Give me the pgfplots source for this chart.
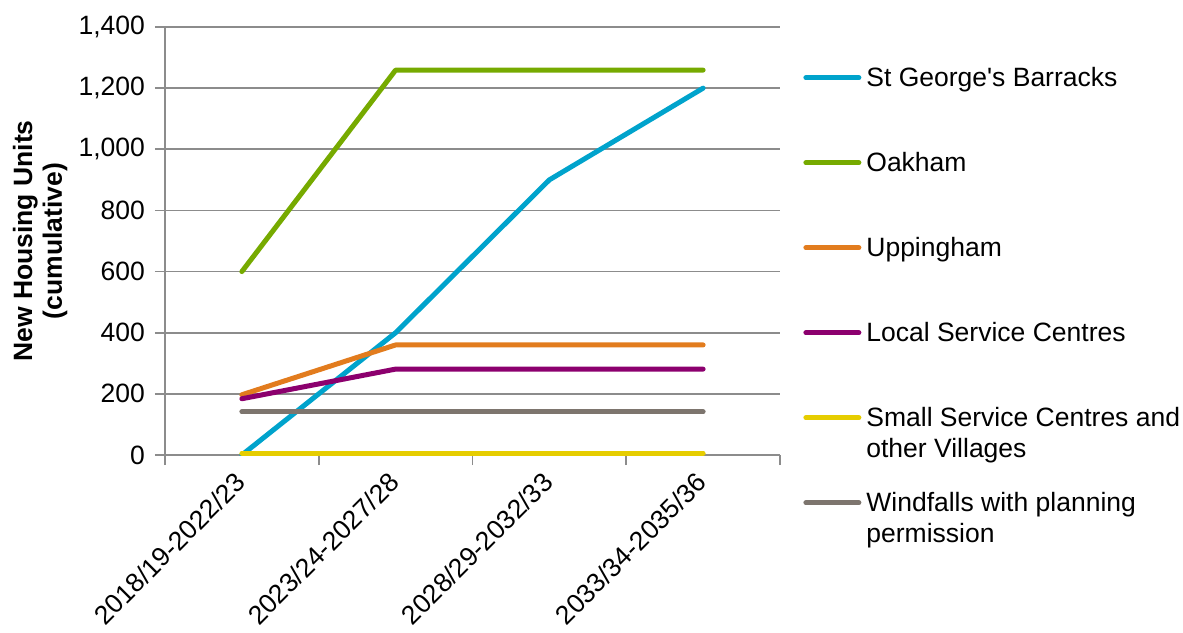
\documentclass[border=0pt]{standalone}
\usepackage{pgfplots}
\pgfplotsset{compat=1.18}
\usepackage{fontspec}
\setmainfont{Liberation Sans}

\definecolor{cStG}{RGB}{0,163,204}
\definecolor{cOak}{RGB}{118,170,0}
\definecolor{cUpp}{RGB}{226,124,30}
\definecolor{cLsc}{RGB}{140,0,110}
\definecolor{cSsc}{RGB}{230,205,0}
\definecolor{cWin}{RGB}{125,117,110}
\definecolor{cGrid}{RGB}{140,140,140}

\newcommand{\legtwo}[2]{\begin{tabular}[t]{@{}l@{}}#1\\#2\end{tabular}}

\begin{document}
\begin{tikzpicture}
\begin{axis}[
    scale only axis,
    width=307.5bp, height=214bp,
    xmin=-0.5, xmax=3.5,
    ymin=0, ymax=1400,
    axis lines*=left,
    axis line style={draw=cGrid, line width=0.8bp},
    tick align=outside,
    ytick={0,200,...,1400},
    ymajorgrids,
    grid style={draw=cGrid, line width=0.8bp},
    major tick length=5bp, minor tick length=5bp,
    tick style={draw=cGrid, line width=0.8bp},
    xtick={0,1,2,3},
    xticklabels={2018/19-2022/23, 2023/24-2027/28, 2028/29-2032/33, 2033/34-2035/36},
    major x tick style={draw=none},
    minor xtick={-0.5,0.5,1.5,2.5,3.5},
    x tick label style={rotate=45, anchor=east, xshift=-1.5bp, yshift=-4bp,
                        font=\fontsize{13.3}{15}\selectfont},
    y tick label style={font=\fontsize{13.3}{15}\selectfont, xshift=-1.5bp},
    /pgf/number format/1000 sep={,},
    /pgf/number format/assume math mode=true,
    ylabel={New Housing Units\\(cumulative)},
    ylabel style={at={(axis description cs:-0.203,0.5)}, anchor=center,
                  align=center, font=\fontsize{13.3}{15}\selectfont\bfseries},
    legend style={at={(axis description cs:1,1)}, anchor=north west,
                  xshift=11.5bp, yshift=-18.15bp,
                  draw=none, fill=none, inner sep=0pt,
                  row sep=10.5bp, column sep=2.5bp,
                  font=\fontsize{13.3}{16}\selectfont,
                  nodes={inner sep=0pt, text height=11.2bp, text depth=20.8bp},
                  cells={anchor=base west}},
    legend image code/.code={\draw[line width=2.5bp, line cap=round] (0bp,4.2bp) -- (26.5bp,4.2bp);},
    every axis plot/.append style={line width=2.5bp, line cap=round, line join=round, mark=none},
]
\addplot[cStG] coordinates {(0,0) (1,400) (2,900) (3,1200)};
\addlegendentry{St George\textquotesingle s Barracks}
\addplot[cOak] coordinates {(0,600) (1,1259) (2,1259) (3,1259)};
\addlegendentry{Oakham}
\addplot[cUpp] coordinates {(0,197) (1,360) (2,360) (3,360)};
\addlegendentry{Uppingham}
\addplot[cLsc] coordinates {(0,184) (1,281) (2,281) (3,281)};
\addlegendentry{Local Service Centres}
\addplot[cSsc] coordinates {(0,6) (1,6) (2,6) (3,6)};
\addlegendentry{\legtwo{Small Service Centres and}{other Villages}}
\addplot[cWin] coordinates {(0,141) (1,141) (2,141) (3,141)};
\addlegendentry{\legtwo{Windfalls with planning}{permission}}
\end{axis}
\pgfresetboundingbox
\path (-82.5bp,-89bp) rectangle (509bp,227.5bp);
\end{tikzpicture}
\end{document}
